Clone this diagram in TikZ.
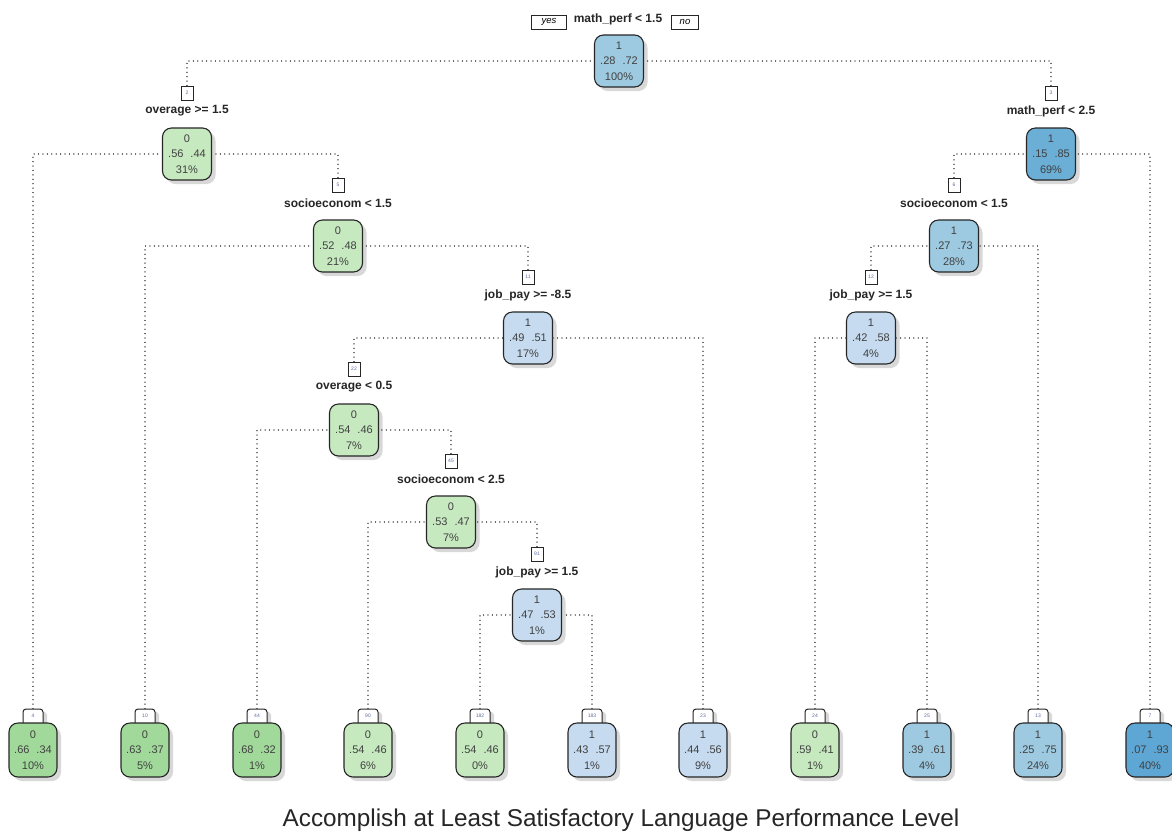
\documentclass[tikz,border=0pt]{standalone}
\usepackage{fontspec}
\setmainfont{Liberation Sans}
\usetikzlibrary{shadows}

\definecolor{gA}{HTML}{C7E9C0}
\definecolor{gB}{HTML}{A1D99B}
\definecolor{bA}{HTML}{C6DBEF}
\definecolor{bB}{HTML}{9ECAE1}
\definecolor{bC}{HTML}{6BAED6}
\definecolor{bD}{HTML}{5EA6D4}
\definecolor{numcol}{HTML}{5C6A9E}

\tikzset{
  tnode/.style={draw=black!85, line width=1.1pt, rounded corners=9pt,
    minimum width=49pt, minimum height=52pt, inner sep=0pt, align=center,
    font=\fontsize{11}{15.5}\selectfont, text=black!75,
    drop shadow={shadow xshift=4pt, shadow yshift=-4pt, fill=black!30}},
  leafnode/.style={tnode, minimum width=48pt, minimum height=54pt},
  numbox/.style={draw=black!85, line width=1pt, fill=white, minimum width=12pt,
    minimum height=14pt, inner sep=1.5pt, font=\fontsize{5}{5}\selectfont, text=numcol},
  tabbox/.style={draw=black!85, line width=1pt, fill=white, rounded corners=3pt,
    minimum width=20pt, minimum height=22pt, inner sep=0pt,
    drop shadow={shadow xshift=4pt, shadow yshift=-3pt, fill=black!30}},
  tabnum/.style={inner sep=0pt, font=\fontsize{5}{5}\selectfont, text=numcol},
  split/.style={inner sep=0pt, font=\bfseries\fontsize{12}{12}\selectfont, text=black!85},
  yesno/.style={draw=black!85, line width=1pt, inner sep=0pt, minimum height=14pt,
    font=\itshape\fontsize{9.5}{9.5}\selectfont},
  branch/.style={draw=black!70, line width=1.3pt, dash pattern=on 0.01pt off 4.4pt, line cap=round},
}

% internal split node: id, x, y, fill, body, split text
\newcommand\inode[6]{%
  \node[tnode, fill=#4] (n#1) at (#2,#3) {#5};
  \node[split] (s#1) at (#2,#3-43) {#6};
  \node[numbox] (b#1) at (#2,#3-61) {#1};
}
% terminal node with its numbered tab: id, x, fill, body
\newcommand\leafnode[4]{%
  \node[tabbox] (t#1) at (#2,720) {};
  \node[tabnum] (tn#1) at (#2,716) {#1};
  \node[leafnode, fill=#3] (n#1) at (#2,750) {#4};
}
\newcommand\vals[3]{#1\\#2\hspace{7pt}#3}

\begin{document}
\begin{tikzpicture}[x=1pt, y=-1pt]
\useasboundingbox (0,0) rectangle (1172,831);
\fill[white] (0,0) rectangle (1172,831);

% root
\node[tnode, fill=bB] (n1) at (619,61) {\vals{1}{.28}{.72}\\100\%};
\node[split] (s1) at (618,19) {math\_perf < 1.5};
\node[yesno, minimum width=35pt] (yes) at (549,22) {yes};
\node[yesno, minimum width=27pt] (no) at (685,22) {no};

% split nodes
\inode{2}{187}{154}{gA}{\vals{0}{.56}{.44}\\31\%}{overage >= 1.5}
\inode{3}{1051}{154}{bC}{\vals{1}{.15}{.85}\\69\%}{math\_perf < 2.5}
\inode{5}{338}{246}{gA}{\vals{0}{.52}{.48}\\21\%}{socioeconom < 1.5}
\inode{6}{954}{246}{bB}{\vals{1}{.27}{.73}\\28\%}{socioeconom < 1.5}
\inode{11}{528}{338}{bA}{\vals{1}{.49}{.51}\\17\%}{job\_pay >= -8.5}
\inode{12}{871}{338}{bA}{\vals{1}{.42}{.58}\\4\%}{job\_pay >= 1.5}
\inode{22}{354}{430}{gA}{\vals{0}{.54}{.46}\\7\%}{overage < 0.5}
\inode{45}{451}{522}{gA}{\vals{0}{.53}{.47}\\7\%}{socioeconom < 2.5}
\inode{91}{537}{615}{bA}{\vals{1}{.47}{.53}\\1\%}{job\_pay >= 1.5}

% terminal nodes
\leafnode{4}{33}{gB}{\vals{0}{.66}{.34}\\10\%}
\leafnode{10}{145}{gB}{\vals{0}{.63}{.37}\\5\%}
\leafnode{44}{257}{gB}{\vals{0}{.68}{.32}\\1\%}
\leafnode{90}{368}{gA}{\vals{0}{.54}{.46}\\6\%}
\leafnode{182}{480}{gA}{\vals{0}{.54}{.46}\\0\%}
\leafnode{183}{592}{bA}{\vals{1}{.43}{.57}\\1\%}
\leafnode{23}{703}{bA}{\vals{1}{.44}{.56}\\9\%}
\leafnode{24}{815}{gA}{\vals{0}{.59}{.41}\\1\%}
\leafnode{25}{927}{bB}{\vals{1}{.39}{.61}\\4\%}
\leafnode{13}{1038}{bB}{\vals{1}{.25}{.75}\\24\%}
\leafnode{7}{1150}{bD}{\vals{1}{.07}{.93}\\40\%}

% branches
\draw[branch] (b2.north) |- (n1.west);
\draw[branch] (b3.north) |- (n1.east);
\draw[branch] (t4.north) |- (n2.west);
\draw[branch] (b5.north) |- (n2.east);
\draw[branch] (t10.north) |- (n5.west);
\draw[branch] (b11.north) |- (n5.east);
\draw[branch] (b22.north) |- (n11.west);
\draw[branch] (t23.north) |- (n11.east);
\draw[branch] (t44.north) |- (n22.west);
\draw[branch] (b45.north) |- (n22.east);
\draw[branch] (t90.north) |- (n45.west);
\draw[branch] (b91.north) |- (n45.east);
\draw[branch] (t182.north) |- (n91.west);
\draw[branch] (t183.north) |- (n91.east);
\draw[branch] (b6.north) |- (n3.west);
\draw[branch] (t7.north) |- (n3.east);
\draw[branch] (b12.north) |- (n6.west);
\draw[branch] (t13.north) |- (n6.east);
\draw[branch] (t24.north) |- (n12.west);
\draw[branch] (t25.north) |- (n12.east);

% title
\node[anchor=base, inner sep=0pt, font=\fontsize{24.3}{24.3}\selectfont, text=black!85] (title) at (621,826)
  {Accomplish at Least Satisfactory Language Performance Level};
\end{tikzpicture}
\end{document}
